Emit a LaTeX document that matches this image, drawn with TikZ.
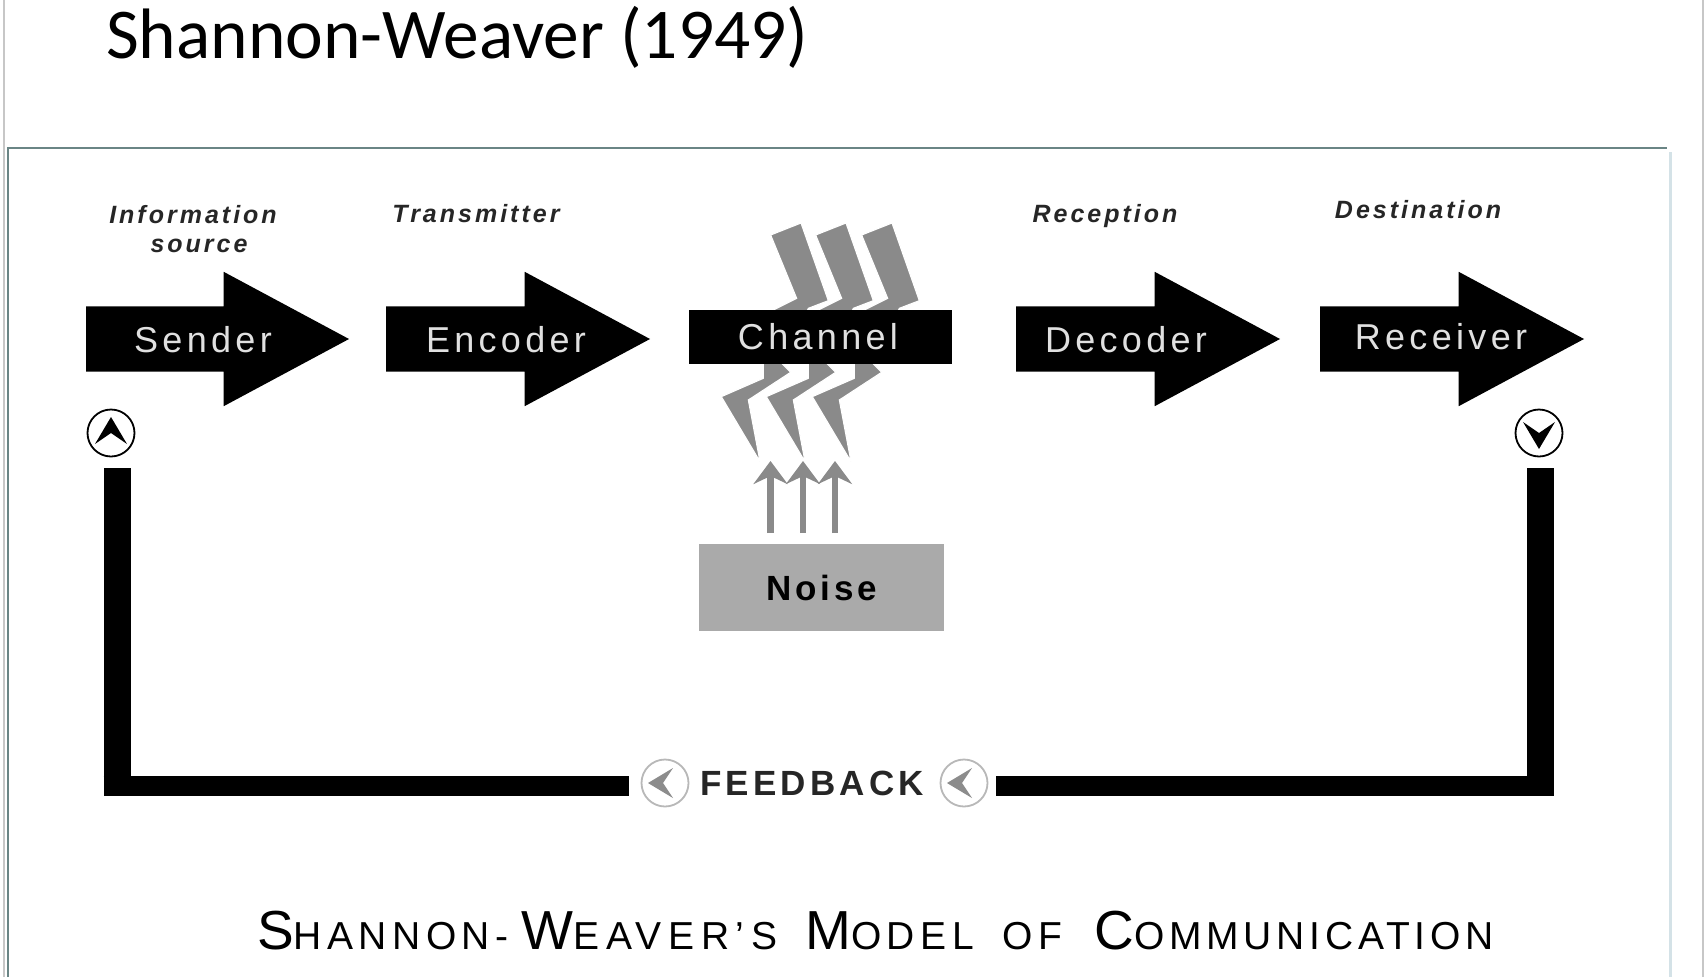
\documentclass[tikz,border=0pt]{standalone}
\usepackage{fontspec}
\usetikzlibrary{shapes.arrows,arrows.meta}
\setmainfont{Liberation Sans}
\newfontfamily\titlefont{Carlito}
\definecolor{boltgray}{HTML}{8A8A8A}
\definecolor{noisegray}{HTML}{AAAAAA}
\definecolor{framecol}{HTML}{6A8585}
\definecolor{softwhite}{HTML}{E0E0E0}
\tikzset{
  x=1pt,y=-1pt,
  bigarrow/.style={single arrow,fill=black,inner sep=0pt,outer sep=0pt,anchor=tail,text height=65pt,text depth=0pt,
    minimum height=#1,single arrow head extend=34.5pt,single arrow tip angle=56.4},
  wlabel/.style={text=softwhite,font=\fontsize{36}{36}\selectfont\addfontfeatures{LetterSpace=12},inner sep=0pt},
  tlabel/.style={text=black!85,font=\fontsize{25}{29}\itshape\bfseries\selectfont\addfontfeatures{LetterSpace=12},inner sep=0pt,align=center},
  ringb/.style={circle,draw=black,line width=1.8pt,minimum size=47pt,inner sep=0pt},
  ringg/.style={circle,draw=black!28,line width=1.8pt,minimum size=47pt,inner sep=0pt},
  bolt/.style={fill=boltgray,draw=white,line width=1.1pt,line join=miter},
  noisearrow/.style={draw=boltgray,line width=6.5pt,-{Stealth[length=23pt,width=34pt,inset=8pt]}},
  fbv/.style={line width=27pt,draw=black},
  fbh/.style={line width=20pt,draw=black},
}
\newcommand{\boltat}[1]{%
  \begin{scope}[shift={(#1,200)},x=0.3333pt,y=-0.3333pt]
    \path[bolt] (392,105)--(483,69)--(565,302)--(505,325)--(500,335)--(425,490)--(452,517)--(325,600)--(360,785)--(244,590)--(370,535)--(370,490)--(400,330)--(470,295)--cycle;
  \end{scope}}
\begin{document}
\begin{tikzpicture}
\useasboundingbox (0,0) rectangle (1704,977);
\fill[white] (0,0) rectangle (1704,977);
% slide frame
\draw[black!22,line width=2pt] (4,0)--(4,977);
\draw[black!22,line width=2pt] (1703,0)--(1703,977);
\draw[framecol,line width=2pt] (8,977)--(8,148)--(1667,148);
\draw[cyan!10!white!90!black,line width=3pt] (1670,152)--(1670,977);
% title
\node[anchor=base west,inner sep=0pt,font=\fontsize{71.4}{71.4}\titlefont] (title) at (106,58) {Shannon-Weaver (1949)};
% bolts
\boltat{640}\boltat{685}\boltat{731}
% arrows
\node[bigarrow=263pt] (a1) at (86,339) {};
\node[bigarrow=264pt] (a2) at (386,339) {};
\node[bigarrow=264pt] (a4) at (1016,339) {};
\node[bigarrow=264pt] (a5) at (1320,339) {};
\node[fill=black,minimum width=263pt,minimum height=54pt,inner sep=0pt,outer sep=0pt] (chan) at (820.5,337) {};
% arrow labels
\node[wlabel] (l1) at (203,340) {Sender};
\node[wlabel] (l2) at (506,340) {Encoder};
\node[wlabel] (l3) at (818,337) {Channel};
\node[wlabel] (l4) at (1126,340) {Decoder};
\node[wlabel] (l5) at (1441,337) {Receiver};
% italic labels
\node[tlabel] (t1) at (193,229) {Information\\\hspace*{12pt}source};
\node[tlabel] (t2) at (476,214) {Transmitter};
\node[tlabel] (t4) at (1105,216) {Reception};
\node[tlabel] (t5) at (1418,210) {Destination};
% noise
\node[fill=noisegray,minimum width=245pt,minimum height=87pt,inner sep=0pt,outer sep=0pt,font=\fontsize{35}{35}\bfseries\selectfont\addfontfeatures{LetterSpace=11}] (noise) at (821.5,587.5) {Noise};
\coordinate (n1s) at (770.5,533); \coordinate (n1e) at (770.5,461);
\coordinate (n2s) at (803,533); \coordinate (n2e) at (803,461);
\coordinate (n3s) at (835,533); \coordinate (n3e) at (835,461);
\draw[noisearrow] (n1s)--(n1e);
\draw[noisearrow] (n2s)--(n2e);
\draw[noisearrow] (n3s)--(n3e);
% rings
\node[ringb] (rl) at (111,433) {};
\node[ringb] (rr) at (1539,433) {};
\fill[black] (111,417)--(127,444)--(111,433)--(95,444)--cycle;
\fill[black] (1539,449)--(1555,422)--(1539,433)--(1523,422)--cycle;
% feedback
\node[ringg] (fl) at (665,783) {};
\node[ringg] (fr) at (964,783) {};
\fill[black!45] (648,783)--(673,768)--(663,783)--(673,798)--cycle;
\fill[black!45] (947,783)--(972,768)--(962,783)--(972,798)--cycle;
\node[inner sep=0pt,text=black!85,font=\fontsize{35}{35}\bfseries\selectfont\addfontfeatures{LetterSpace=12}] (fb) at (812,783) {FEEDBACK};
\coordinate (lt) at (117,468); \coordinate (le) at (629,786);
\coordinate (rt) at (1540,468); \coordinate (re) at (996,786);
\draw[fbv] (lt)--(117,796);
\draw[fbh] (103.5,786)--(le);
\draw[fbv] (rt)--(1540,796);
\draw[fbh] (1553.5,786)--(re);
% bottom title
\node[anchor=base west,inner sep=0pt] (cap) at (257,949) {\addfontfeatures{LetterSpace=14}\fontsize{55}{55}\selectfont S\fontsize{39}{39}\selectfont HANNON-\hspace{13pt}\fontsize{55}{55}\selectfont W\fontsize{39}{39}\selectfont \addfontfeatures{LetterSpace=17}EAVER’S\addfontfeatures{LetterSpace=14}\hspace{28pt}\fontsize{55}{55}\selectfont M\fontsize{39}{39}\selectfont ODEL\hspace{29pt}OF\hspace{32pt}\fontsize{55}{55}\selectfont C\fontsize{39}{39}\selectfont\addfontfeatures{LetterSpace=12.3} OMMUNICATION};
\end{tikzpicture}
\end{document}
